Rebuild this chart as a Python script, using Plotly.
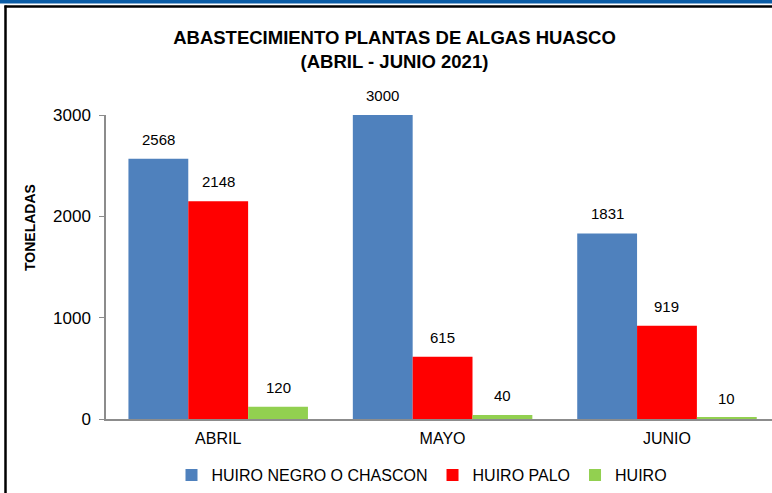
import plotly.graph_objects as go

categories = ["ABRIL", "MAYO", "JUNIO"]
huiro_negro = [2568, 3000, 1831]
huiro_palo = [2148, 615, 919]
huiro = [120, 40, 10]
series_names = ["HUIRO NEGRO O CHASCON", "HUIRO PALO", "HUIRO"]
colors = ["#4F81BD", "#FF0000", "#92D050"]
y_ticks = [0, 1000, 2000, 3000]

W, H = 772, 493
L, R, T, B = 106, 0, 115, 74
pw, ph = W - L - R, H - T - B
X_RANGE = [-0.5, 2.468]
BARGAP = 0.2

def px(x):
    return (x - L) / pw

def py(y):
    return (H - B - y) / ph

FONT = "Liberation Sans, Arial"

fig = go.Figure()
all_series = [huiro_negro, huiro_palo, huiro]
for name, vals, c in zip(series_names, all_series, colors):
    fig.add_trace(go.Bar(
        x=categories, y=vals, name=name, marker=dict(color=c, line=dict(width=0)),
        cliponaxis=False,
    ))

# data labels: annotations anchored on each bar's value
cat_px = pw / (X_RANGE[1] - X_RANGE[0])
bar_w = cat_px * (1 - BARGAP) / len(all_series)
for i, vals in enumerate(all_series):
    off = (i - (len(all_series) - 1) / 2) * bar_w
    for cat, v in zip(categories, vals):
        fig.add_annotation(x=cat, y=v, xref="x", yref="y", text=str(v), showarrow=False,
                           xanchor="center", yanchor="bottom", xshift=off, yshift=9,
                           font=dict(family=FONT, size=15, color="#000000"))

fig.update_layout(
    width=W, height=H,
    margin=dict(l=L, r=R, t=T, b=B),
    paper_bgcolor="white", plot_bgcolor="white",
    barmode="group", bargap=BARGAP, bargroupgap=0,
    font=dict(family=FONT, color="#000000"),
    title=dict(text="<b>ABASTECIMIENTO PLANTAS DE ALGAS HUASCO<br>(ABRIL - JUNIO 2021)</b>",
               x=0.511, xanchor="center", xref="container",
               y=1 - 44 / H, yanchor="top", yref="container",
               font=dict(size=18.5, family=FONT, color="#000000")),
    xaxis=dict(range=X_RANGE, showline=True, linecolor="#8C8C8C", linewidth=2,
               ticks="", tickfont=dict(size=16), ticklabelstandoff=4,
               showgrid=False, zeroline=False, layer="above traces"),
    yaxis=dict(range=[0, 3000], tickvals=y_ticks, showline=True, linecolor="#8C8C8C",
               linewidth=1.5, ticks="outside", ticklen=5, tickcolor="#8C8C8C",
               ticklabelstandoff=5,
               tickfont=dict(size=17), showgrid=False, zeroline=False),
    legend=dict(orientation="h", x=px(422), xanchor="center", y=py(475), yanchor="middle",
                font=dict(size=16), itemwidth=30, traceorder="normal"),
    showlegend=True,
)

fig.add_annotation(text="<b>TONELADAS</b>", x=px(30), y=py(228), xref="paper", yref="paper",
                   xanchor="center", yanchor="middle",
                   textangle=-90, showarrow=False, font=dict(size=14))

shapes = [
    dict(type="rect", xref="paper", yref="paper", x0=px(0), x1=px(772), y0=py(3.5), y1=py(-1),
         fillcolor="#0A5CA6", line=dict(width=0)),
    dict(type="line", xref="paper", yref="paper", x0=px(4.5), x1=px(772), y0=py(6.5), y1=py(6.5),
         line=dict(color="#000000", width=2.5)),
    dict(type="line", xref="paper", yref="paper", x0=px(5.5), x1=px(5.5), y0=py(5.5), y1=py(494),
         line=dict(color="#000000", width=2.5)),
]
fig.update_layout(shapes=shapes)

fig.write_html("out.html", config={"displayModeBar": False},
               post_script="document.body.style.margin='0px';")
